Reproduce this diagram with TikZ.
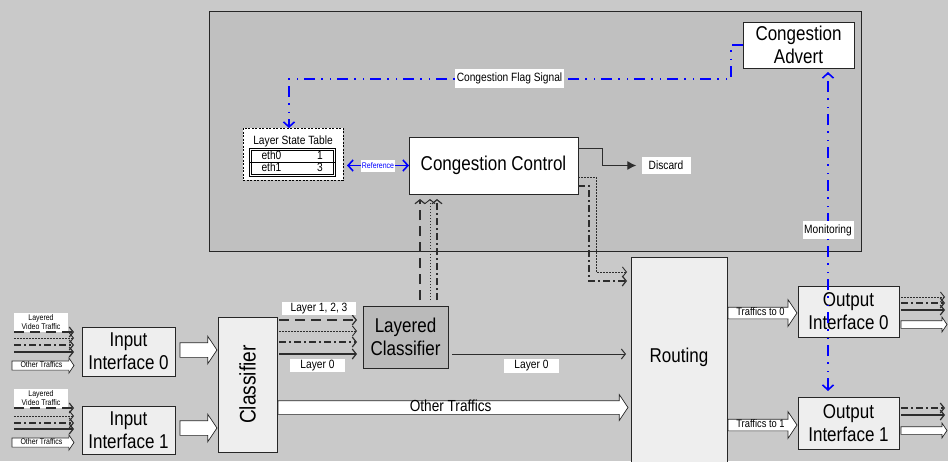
\documentclass[tikz,border=0pt]{standalone}
\usepackage{fontspec}
\setmainfont{Liberation Sans}[FakeStretch=0.85]
\usetikzlibrary{arrows.meta,shapes.arrows,calc}

\definecolor{outerbg}{RGB}{201,201,201}
\definecolor{panelbg}{RGB}{192,192,192}
\definecolor{boxfill}{RGB}{238,238,238}
\definecolor{lcfill}{RGB}{186,186,186}
\definecolor{sigblue}{RGB}{0,0,255}
\definecolor{linegray}{RGB}{45,45,45}

\tikzset{
  box/.style={draw=black!85, line width=0.8pt, align=center, inner sep=0pt, outer sep=0pt,
    anchor=north west, font=\fontsize{20}{23}\selectfont},
  tag/.style={fill=white, inner sep=1pt, font=\fontsize{12}{13}\selectfont},
  fat/.style={single arrow, draw=black!85, fill=white, line width=0.7pt, inner sep=0pt,
    outer sep=0pt, single arrow tip angle=112, anchor=tail},
  open/.style={-{Straight Barb[length=4pt,width=10pt]}},
  sig/.style={sigblue, line width=1.6pt,
    dash pattern=on 11pt off 6pt on 1.5pt off 7pt on 1.5pt off 6pt},
  tr/.style={linegray, line width=1.2pt},
  trdash/.style={tr, dash pattern=on 10pt off 6pt},
  trdot/.style={tr, line width=0.9pt, dash pattern=on 1.5pt off 1.5pt},
  trdd/.style={tr, dash pattern=on 7pt off 3pt on 2pt off 3pt},
}

\begin{document}
\begin{tikzpicture}[x=1pt,y=-1pt]
  \fill[outerbg] (0,0) rectangle (948,461);
  \useasboundingbox (0,0) rectangle (948,461);
  \clip (0,0) rectangle (948,461);

  % control plane
  \node[box, fill=panelbg, minimum width=652, minimum height=240] (panel) at (209,11) {};
  \node[box, fill=white, minimum width=111, minimum height=46] (advert) at (743,22) {Congestion\\Advert};
  \node[box, fill=white, draw=black, dash pattern=on 2pt off 1.5pt, line width=0.6pt,
    minimum width=100, minimum height=52] (lst) at (243,128) {};
  \node[box, fill=white, minimum width=169, minimum height=57] (ctrl) at (409,137) {Congestion Control};
  \node[tag, minimum width=49, minimum height=17] (discard) at (666,165.5) {Discard};

  % layer state table
  \node[font=\fontsize{12}{13}\selectfont] (lsttitle) at (293,141) {Layer State Table};
  \node[draw, double, double distance=1.2pt, line width=0.6pt, minimum width=84,
    minimum height=26, anchor=north, inner sep=0pt] (tbl) at (292.5,149) {};
  \draw[line width=1.4pt] (tbl.west) -- (tbl.east);
  \node[font=\fontsize{12}{13}\selectfont, anchor=west] (e0) at (258,155.5) {eth0};
  \node[font=\fontsize{12}{13}\selectfont, anchor=west] (e1) at (258,167.5) {eth1};
  \node[font=\fontsize{12}{13}\selectfont] (v0) at (320,155.5) {1};
  \node[font=\fontsize{12}{13}\selectfont] (v1) at (320,167.5) {3};

  % data plane
  \node[box, fill=boxfill, minimum width=93, minimum height=49] (in0) at (82,327) {Input\\Interface 0};
  \node[box, fill=boxfill, minimum width=93, minimum height=48] (in1) at (82,406) {Input\\Interface 1};
  \node[box, fill=boxfill, minimum width=59, minimum height=135] (cls) at (218,317) {};
  \node[rotate=90, font=\fontsize{22.5}{24}\selectfont] (clstext) at (cls.center) {Classifier};
  \node[box, fill=lcfill, minimum width=85, minimum height=62] (lcls) at (363,306) {Layered\\Classifier};
  \node[box, fill=boxfill, minimum width=96, minimum height=213] (routing) at (631,257) {};
  \node[font=\fontsize{20}{23}\selectfont] (routtext) at (679,357) {Routing};
  \node[box, fill=boxfill, minimum width=101, minimum height=51] (out0) at (798,286) {Output\\Interface 0};
  \node[box, fill=boxfill, minimum width=101, minimum height=52] (out1) at (798,397) {Output\\Interface 1};

  % incoming traffic
  \node[tag, align=center, minimum width=54, minimum height=19, inner sep=0.5pt,
    font=\fontsize{8.2}{9}\selectfont] (vid0) at (41,322) {Layered\\Video Traffic};
  \node[tag, align=center, minimum width=54, minimum height=19, inner sep=0.5pt,
    font=\fontsize{8.2}{9}\selectfont] (vid1) at (41,398) {Layered\\Video Traffic};
  \foreach \s/\y in {trdash/332, trdot/338, trdd/345, tr/352}
    \draw[\s, open, shorten >=8pt] (14,\y) -- (in0.west |- 0,\y);
  \foreach \s/\y in {trdash/408, trdot/416, trdd/423, tr/429}
    \draw[\s, open, shorten >=8pt] (14,\y) -- (in1.west |- 0,\y);
  \node[fat, minimum height=62, single arrow head extend=3pt, inner ysep=0.5pt,
    text height=5.5pt, text depth=2pt, font=\fontsize{8.2}{9}\selectfont] (ot0) at (12,365.5) {Other Traffics};
  \node[fat, minimum height=62, single arrow head extend=3pt, inner ysep=0.5pt,
    text height=5.5pt, text depth=2pt, font=\fontsize{8.2}{9}\selectfont] (ot1) at (12,442.5) {Other Traffics};

  % interfaces to classifier
  \node[fat, minimum height=37, single arrow head extend=6.5pt, inner ysep=7pt] (a0) at (180,350) {};
  \node[fat, minimum height=37, single arrow head extend=6.5pt, inner ysep=7pt] (a1) at (180,428) {};

  % classifier to layered classifier
  \foreach \s/\dy in {trdash/3, trdot/14, trdd/25, tr/37}{
    \coordinate (s) at ($(cls.north east)+(2,\dy)$);
    \draw[\s, open, shorten >=6pt] (s) -- (s -| lcls.west);
  }
  \node[tag, minimum width=74, minimum height=13] (l123) at (319,308.5) {Layer 1, 2, 3};
  \node[tag, minimum width=55, minimum height=13] (l0a) at (317.5,365.5) {Layer 0};

  % layered classifier to congestion control
  \foreach \s/\dx in {trdash/57, trdot/67, trdd/74}{
    \coordinate (s) at ($(lcls.north west)+(\dx,0)$);
    \draw[\s, open, shorten <=6pt, shorten >=5pt] (s) -- (s |- ctrl.south);
  }

  % layer 0 and other traffics to routing
  \draw[tr, line width=1pt, open, shorten <=4pt, shorten >=5pt] (lcls.east |- 0,354) -- (routing.west |- 0,354);
  \node[tag, minimum width=55, minimum height=14] (l0b) at (531.5,366) {Layer 0};
  \node[fat, minimum height=350, single arrow head extend=6pt, inner ysep=0.5pt,
    text height=9.5pt, text depth=2.5pt, font=\fontsize{16}{17}\selectfont] (other) at (278,407.5) {Other Traffics};

  % congestion control outputs
  \draw[tr, line width=1pt, -{Latex[length=9pt,width=9pt]}]
    ([yshift=-11pt]ctrl.north east) -- ++(24,0) |- ([xshift=-5pt]discard.west);
  \draw[trdot, open, shorten >=4pt] ([yshift=-40pt]ctrl.north east) -- ++(18,0)
    |- ([yshift=-15pt]routing.north west);
  \draw[trdd, open, shorten >=4pt] ([yshift=-49pt]ctrl.north east) -- ++(11,0)
    |- ([yshift=-24pt]routing.north west);

  % routing to output interfaces
  \node[fat, minimum height=69, single arrow head extend=7.5pt, inner ysep=0.5pt,
    text height=7.5pt, text depth=2.5pt, font=\fontsize{11}{12}\selectfont] (t0) at (728,313) {Traffics to 0};
  \node[fat, minimum height=69, single arrow head extend=7.5pt, inner ysep=0.5pt,
    text height=7.5pt, text depth=2.5pt, font=\fontsize{11}{12}\selectfont] (t1) at (728,425) {Traffics to 1};

  % outgoing traffic
  \foreach \s/\y in {trdot/297, trdd/303, tr/310}
    \draw[\s, open, shorten <=2pt] (out0.east |- 0,\y) -- (945,\y);
  \foreach \s/\y in {trdd/408, tr/415}
    \draw[\s, open, shorten <=2pt] (out1.east |- 0,\y) -- (945,\y);
  \node[fat, minimum height=46, single arrow head extend=3.5pt, inner ysep=3.5pt] (o0) at (901,324.5) {};
  \node[fat, minimum height=46, single arrow head extend=3.5pt, inner ysep=3.5pt] (o1) at (901,430.5) {};

  % signalling
  \draw[sig, -{Straight Barb[length=5pt,width=11pt]}] (advert.west) -- ++(-12,0) -- ++(0,34)
    -| ([xshift=-4pt]lst.north);
  \node[tag, minimum width=109, minimum height=19] (flag) at (509.5,78.5) {Congestion Flag Signal};
  \draw[sigblue, line width=1.6pt, {Straight Barb[length=5pt,width=11pt]}-{Straight Barb[length=5pt,width=11pt]}]
    ([xshift=4pt]lst.east |- ctrl.west) -- (ctrl.west)
    node[midway, tag, inner sep=1pt, minimum height=12, font=\fontsize{8.2}{9}\selectfont] (ref) {Reference};
  \draw[sig, {Straight Barb[length=5pt,width=11pt]}-{Straight Barb[length=5pt,width=11pt]}]
    ([xshift=-20.5pt, yshift=6pt]out1.north) -- ([xshift=-20.5pt, yshift=-4pt]out1.north |- advert.south);
  \node[tag, minimum width=51, minimum height=18] (mon) at (828,230) {Monitoring};
\end{tikzpicture}
\end{document}
